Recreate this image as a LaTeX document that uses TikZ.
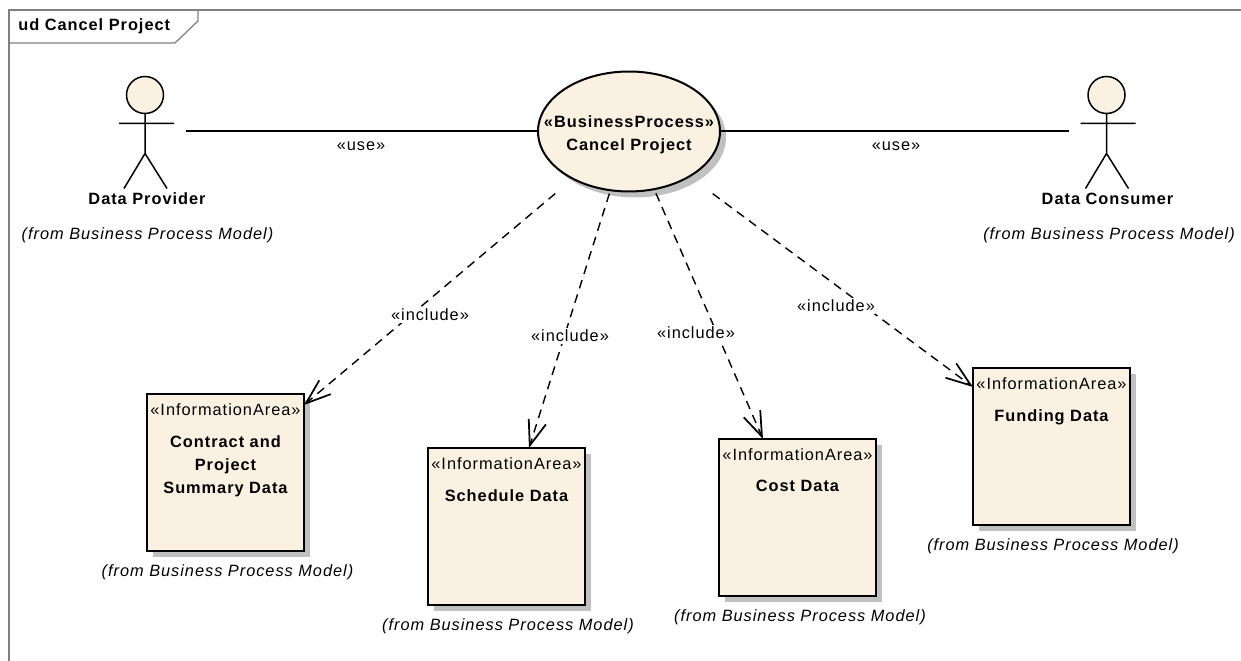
\documentclass[tikz,border=0pt]{standalone}
\usepackage{fontspec}
\setmainfont[LetterSpace=6]{Liberation Sans}
\usetikzlibrary{calc, shapes.geometric, shadows, arrows.meta}

\definecolor{notefill}{HTML}{FBF1E3}
\definecolor{shadowgray}{HTML}{C0C0C0}
\definecolor{framegray}{HTML}{7F7F7F}

\tikzset{
	plain/.style={font=\fontsize{9.3}{13.2}\selectfont, inner sep=0pt, align=center},
	boldtext/.style={plain, font=\fontsize{9.3}{13.2}\selectfont\bfseries},
	fromtext/.style={plain, font=\fontsize{9.3}{13.2}\selectfont\itshape},
	linklabel/.style={plain, fill=white, inner ysep=1pt},
	areabox/.style={draw, line width=0.5mm, fill=notefill, minimum size=3.14cm, inner sep=0pt, outer sep=0pt, drop shadow={shadow xshift=0.12cm, shadow yshift=-0.12cm, fill=shadowgray, opacity=1}},
	processnode/.style={boldtext, ellipse, draw, line width=0.4mm, fill=notefill, minimum width=3.64cm, minimum height=2.4cm, inner xsep=-0.6cm, inner ysep=0pt, outer sep=0pt, drop shadow={shadow xshift=0.12cm, shadow yshift=-0.12cm, fill=shadowgray, opacity=1}},
	actorhead/.style={circle, draw, line width=0.3mm, fill=notefill, minimum size=0.74cm, inner sep=0pt, outer sep=0pt},
	useline/.style={line width=0.4mm},
	includeline/.style={line width=0.28mm, dash pattern=on 5pt off 3.6pt, -{Straight Barb[length=0.5cm, width=0.36cm, line width=0.35mm]}}
}

\begin{document}
\begin{tikzpicture}[x=0.02cm, y=-0.02cm]
	\useasboundingbox (0,0) rectangle (1241,661);
	
	\draw [framegray, line width=0.3mm] (9,661) -- (9,10) -- (1241,10);
	\draw [framegray, line width=0.25mm] (9,43) -- (175,43) -- (198,21) -- (198,10);
	\node [boldtext, anchor=west] (frametitle) at (18,26) {ud Cancel Project};
	
	\node [processnode] (process) at (629,131.5) {\rule{0pt}{10.5pt}«BusinessProcess»\\Cancel Project};
	
	\node [actorhead] (provider) at (145,95) {};
	\node [actorhead] (consumer) at (1106.5,95) {};
	\foreach \name in {provider,consumer}
		\draw [line width=0.3mm] (\name.south) -- ++(0,40) -- ++(-21,35) ++(21,-35) -- ++(22,35)
			($(\name.south)+(-26,10)$) -- ++(55,0);
	
	\node [boldtext] (providername) at (147,199) {Data Provider};
	\node [boldtext] (consumername) at (1107.5,199) {Data Consumer};
	\node [fromtext] (providerfrom) at (147.5,235) {(from Business Process Model)};
	\node [fromtext] (consumerfrom) at (1109,235) {(from Business Process Model)};
	
	\node [areabox, anchor=north west] (contract) at (147,394) {};
	\node [areabox, anchor=north west] (schedule) at (428,448) {};
	\node [areabox, anchor=north west] (cost) at (719,439) {};
	\node [areabox, anchor=north west] (funding) at (973,368) {};
	
	\foreach \name in {contract,schedule,cost,funding}
		\node [plain] (\name stereo) at ($(\name.north)+(0,16)$) {«InformationArea»};
	
	\node [boldtext, anchor=north] (contractname) at ($(contract.north)+(0,41)$) {Contract and\\Project\\Summary Data};
	\node [boldtext, anchor=north] (schedulename) at ($(schedule.north)+(0,41)$) {Schedule Data};
	\node [boldtext, anchor=north] (costname) at ($(cost.north)+(0,41)$) {Cost Data};
	\node [boldtext, anchor=north] (fundingname) at ($(funding.north)+(0,41)$) {Funding Data};
	
	\node [fromtext] (contractfrom) at (227.5,572) {(from Business Process Model)};
	\node [fromtext] (schedulefrom) at (508,626) {(from Business Process Model)};
	\node [fromtext] (costfrom) at (800,617) {(from Business Process Model)};
	\node [fromtext] (fundingfrom) at (1053,546) {(from Business Process Model)};
	
	\coordinate (providerend) at (186,131.5);
	\coordinate (consumerend) at (1069,131.5);
	\draw [useline] (process) -- (providerend);
	\draw [useline] (process) -- (consumerend);
	
	\draw [includeline, shorten <=0.46cm] (process) -- ($(contract.north east)+(0,11)$);
	\draw [includeline, shorten <=0.07cm] (process) -- ($(schedule.north west)+(101,0)$);
	\draw [includeline, shorten <=0.09cm] (process) -- ($(cost.north west)+(44,0)$);
	\draw [includeline, shorten <=0.58cm] (process) -- ($(funding.north west)+(0,19)$);
	
	\node [linklabel] (useleft) at (361,146) {«use»};
	\node [linklabel] (useright) at (896,146) {«use»};
	\node [linklabel] (includecontract) at (430,315) {«include»};
	\node [linklabel] (includeschedule) at (570,336) {«include»};
	\node [linklabel] (includecost) at (696,333) {«include»};
	\node [linklabel] (includefunding) at (836,306) {«include»};
\end{tikzpicture}
\end{document}
